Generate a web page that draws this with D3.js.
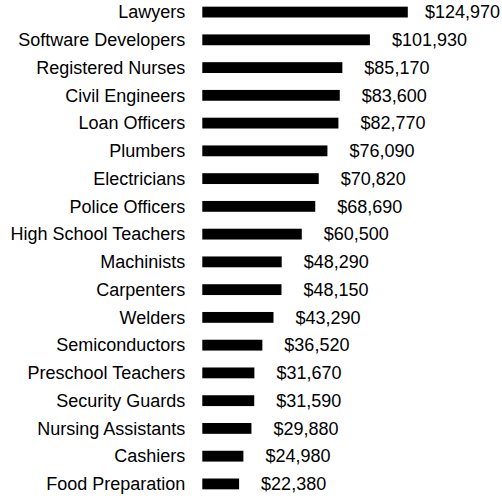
<!doctype html>
<html lang="en">
<head>
<meta charset="utf-8">
<title>Median wages</title>
<script src="https://cdn.jsdelivr.net/npm/d3@7/dist/d3.min.js"></script>
<style>
html, body { margin: 0; padding: 0; background: #fff; }
text { font-family: "Liberation Sans", Arial, sans-serif; font-size: 18px; fill: #000; }
</style>
</head>
<body>
<div id="chart"></div>
<script>
const jobs = ["Lawyers", "Software Developers", "Registered Nurses", "Civil Engineers",
  "Loan Officers", "Plumbers", "Electricians", "Police Officers", "High School Teachers",
  "Machinists", "Carpenters", "Welders", "Semiconductors", "Preschool Teachers",
  "Security Guards", "Nursing Assistants", "Cashiers", "Food Preparation"];
const wages = [124970, 101930, 85170, 83600, 82770, 76090, 70820, 68690, 60500,
  48290, 48150, 43290, 36520, 31670, 31590, 29880, 24980, 22380];

const width = 502, height = 498;
const rows = jobs.map((j, i) => ({job: j, wage: wages[i]}));

const svg = d3.select("#chart").append("svg")
  .attr("width", width)
  .attr("height", height);

// bars start right after the label column
const x = d3.scaleLinear()
  .domain([0, d3.max(wages)])
  .range([202.3, 407.8]);

const y = d3.scaleBand()
  .domain(jobs)
  .range([0, 496])
  .paddingInner(0.61)
  .paddingOuter(0.24);

const fmt = d3.format("$,");

svg.selectAll(".bar")
  .data(rows)
  .enter().append("rect")
  .attr("class", "bar")
  .attr("x", x(0))
  .attr("y", d => y(d.job))
  .attr("width", d => x(d.wage) - x(0))
  .attr("height", y.bandwidth())
  .attr("fill", "#000");

svg.selectAll(".name")
  .data(rows)
  .enter().append("text")
  .attr("class", "name")
  .attr("x", x(0) - 17)
  .attr("y", d => y(d.job) + y.bandwidth() / 2)
  .attr("dy", "0.35em")
  .attr("text-anchor", "end")
  .text(d => d.job);

const vals = svg.selectAll(".val")
  .data(rows)
  .enter().append("text")
  .attr("class", "val")
  .attr("y", d => y(d.job) + y.bandwidth() / 2)
  .attr("dy", "0.35em")
  .text(d => fmt(d.wage));

// keep value labels inside the frame
vals.attr("x", function(d) {
  const w = this.getComputedTextLength();
  return Math.min(x(d.wage) + 22, width - 2 - w);
});
</script>
</body>
</html>
